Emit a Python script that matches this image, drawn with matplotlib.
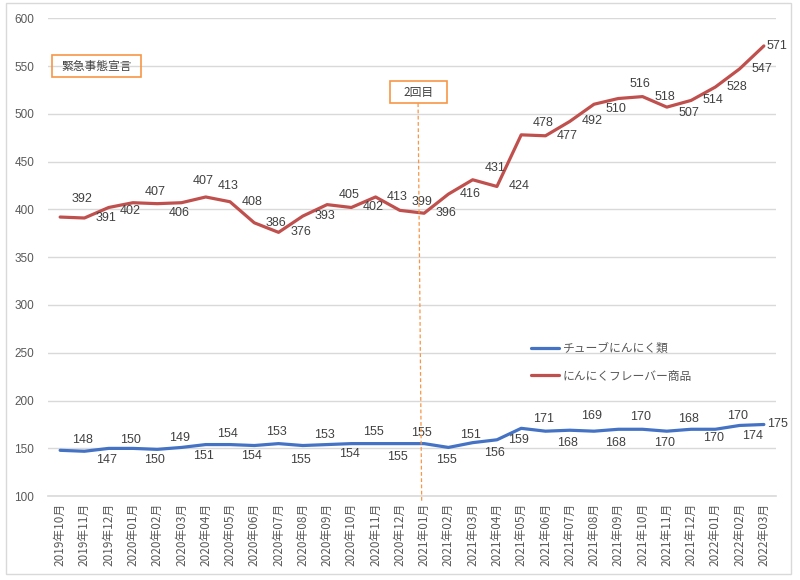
import matplotlib
matplotlib.use('Agg')
import matplotlib.pyplot as plt
from matplotlib.patches import Rectangle
import numpy as np

plt.rcParams['font.family'] = ['Liberation Sans', 'Noto Sans CJK JP', 'DejaVu Sans']

months = ['2019年10月', '2019年11月', '2019年12月',
          '2020年01月', '2020年02月', '2020年03月', '2020年04月', '2020年05月', '2020年06月',
          '2020年07月', '2020年08月', '2020年09月', '2020年10月', '2020年11月', '2020年12月',
          '2021年01月', '2021年02月', '2021年03月', '2021年04月', '2021年05月', '2021年06月',
          '2021年07月', '2021年08月', '2021年09月', '2021年10月', '2021年11月', '2021年12月',
          '2022年01月', '2022年02月', '2022年03月']

tube = [148, 147, 150, 150, 149, 151, 154, 154, 153, 155, 153, 154, 155, 155, 155,
        155, 151, 156, 159, 171, 168, 169, 168, 170, 170, 168, 170, 170, 174, 175]
flavor = [392, 391, 402, 407, 406, 407, 413, 408, 386, 376, 393, 405, 402, 413, 399,
          396, 416, 431, 424, 478, 477, 492, 510, 516, 518, 507, 514, 528, 547, 571]

tube_name = 'チューブにんにく類'
flavor_name = 'にんにくフレーバー商品'
note_first = '緊急事態宣言'
note_second = '2回目'
second_month = '2021年01月'

# label offsets in pixels (down = positive)
flavor_dy = [-18, 0, 4, -11, 9, -22, -11, 0, 0, 0, 0, -10, 0, 0, -8,
             0, 0, -12, 0, -12, 0, 0, 5, -15, 0, 6, 0, 0, 0, 0]
tube_dy = [-10, 9, -8, 12, -11, 9, -11, 11, -14, 16, -11, 9, -12, 13, -11,
           16, -12, 10, 0, -9, 12, -14, 12, -12, 14, -12, 9, -13, 11, 0]

BLUE = '#4472C4'
RED = '#C0504D'
ORANGE = '#F79646'
GRID = '#D9D9D9'
TXT = '#595959'
LBL = '#404040'
CJK = ['Noto Sans CJK JP', 'DejaVu Sans']

fig = plt.figure(figsize=(8, 5.8), dpi=100)
ax = fig.add_axes([0.06, 0.1445, 0.91, 0.8241])

x = np.arange(len(months))
ax.plot(x, tube, color=BLUE, lw=2.3, label=tube_name, solid_capstyle='round')
ax.plot(x, flavor, color=RED, lw=2.3, label=flavor_name, solid_capstyle='round')


def put_labels(vals, dys, last_dx=13):
    n = len(vals)
    for i, (v, dy) in enumerate(zip(vals, dys)):
        if i == n - 1:
            ax.annotate(str(v), (i, v), xytext=(3, -dy), textcoords='offset pixels',
                        ha='left', va='center', fontsize=9, color=LBL)
            continue
        dx = 22
        if i == n - 2:
            dx = last_dx
        ax.annotate(str(v), (i, v), xytext=(dx, -dy), textcoords='offset pixels',
                    ha='center', va='center', fontsize=9, color=LBL)


put_labels(tube, tube_dy, last_dx=13)
put_labels(flavor, flavor_dy, last_dx=22)

ax.set_xlim(-0.5, len(months) - 0.5)
ax.set_ylim(100, 600)
ax.set_yticks(np.arange(100, 601, 50))
ax.set_xticks(x)
ax.set_xticklabels(months, rotation=90, fontsize=8.5, color=TXT, family=CJK)
ax.tick_params(axis='y', labelsize=8.5, labelcolor=TXT, length=0, pad=10)
ax.tick_params(axis='x', length=0, pad=5)
ax.grid(axis='y', color=GRID, lw=1)
ax.set_axisbelow(True)
for s in ['top', 'right', 'left']:
    ax.spines[s].set_visible(False)
ax.spines['bottom'].set_color(GRID)
ax.spines['bottom'].set_linewidth(1.2)

# first note box
ax.add_patch(Rectangle((1.5 - 1.85, 538), 3.7, 24, fill=False, ec=ORANGE, lw=1.2, zorder=5))
ax.text(1.5, 550, note_first, ha='center', va='center', fontsize=8.5, color=LBL,
        family=CJK, zorder=6)

# second note box and dashed line
xs = months.index(second_month)
ax.add_patch(Rectangle((xs - 0.25 - 1.17, 511), 2.35, 23.6, facecolor='white',
                       ec=ORANGE, lw=1.2, zorder=5))
ax.text(xs - 0.25, 522.8, note_second, ha='center', va='center', fontsize=8.5, color=LBL,
        family=CJK, zorder=6)
ax.plot([xs - 0.25, xs - 0.1], [511, 93], color=ORANGE, lw=0.9, ls=(0, (3, 2)),
        clip_on=False, zorder=4)

ax.legend(loc='center left', bbox_to_anchor=(531.0 / 800, (580 - 362.5) / 580),
          bbox_transform=fig.transFigure, frameon=False,
          prop={'family': CJK, 'size': 8.5},
          handlelength=2.4, handletextpad=0.3, labelspacing=1.2,
          borderpad=0, borderaxespad=0, labelcolor=TXT)

fig.patches.append(Rectangle((0.0075, 0.0103), 0.981, 0.984, transform=fig.transFigure,
                             fill=False, ec=GRID, lw=1))

fig.savefig('out.png', dpi=100)
